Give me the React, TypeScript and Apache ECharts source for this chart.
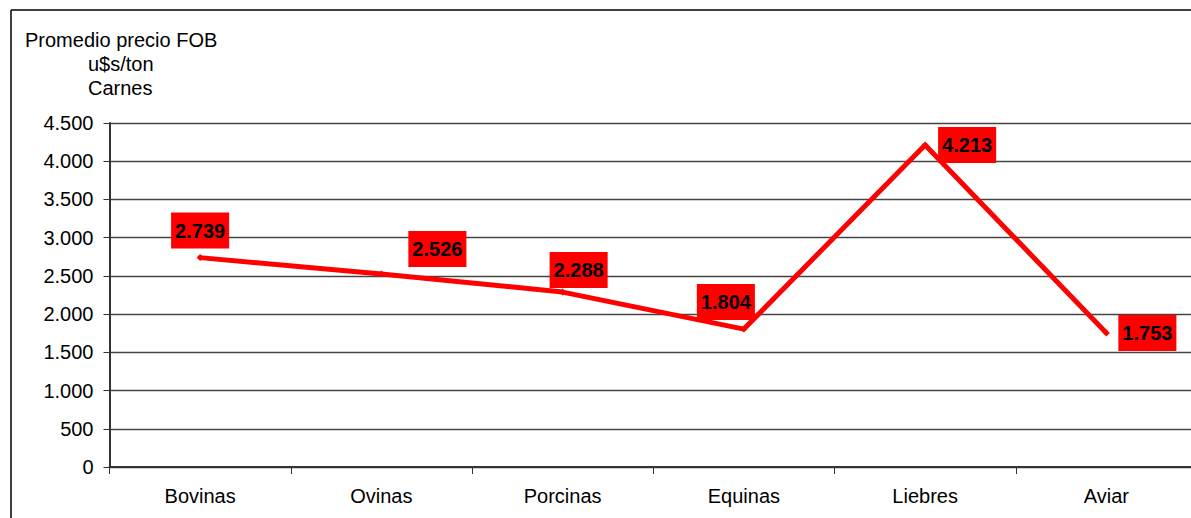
import React, { useEffect, useRef } from "react";
import * as echarts from "echarts";

const categories = ["Bovinas", "Ovinas", "Porcinas", "Equinas", "Liebres", "Aviar"];
const values = [2739, 2526, 2288, 1804, 4213, 1753];
const labelOffsets: [number, number][] = [
  [0, -27],
  [56, -25],
  [16, -22],
  [-18, -27],
  [42, 0],
  [41, 0],
];
const titleLines = ["Promedio precio FOB", "u$s/ton", "Carnes"];

const FONT = "Arial, 'Liberation Sans', Helvetica, sans-serif";

export default function App() {
  const ref = useRef<HTMLDivElement>(null);
  useEffect(() => {
    if (!ref.current) return;
    const chart = echarts.init(ref.current, null, { renderer: "svg" });
    chart.setOption({
      animation: false,
      backgroundColor: "#ffffff",
      grid: { left: 109.5, right: 3, top: 123, bottom: 51, containLabel: false },
      xAxis: {
        type: "category",
        data: categories,
        boundaryGap: true,
        axisLine: { show: true, lineStyle: { color: "#333333", width: 2 } },
        axisTick: { show: true, length: 7, alignWithLabel: false, lineStyle: { color: "#333333", width: 1 } },
        axisLabel: { color: "#000000", fontSize: 20, fontFamily: FONT, margin: 19 },
      },
      yAxis: {
        type: "value",
        min: 0,
        max: 4500,
        interval: 500,
        axisLine: { show: true, lineStyle: { color: "#333333", width: 2 } },
        axisTick: { show: true, length: 6, lineStyle: { color: "#333333", width: 1 } },
        axisLabel: {
          color: "#000000",
          fontSize: 20,
          fontFamily: FONT,
          margin: 16,
          formatter: (v: number) => v.toLocaleString("de-DE"),
        },
        splitLine: { show: true, lineStyle: { color: "#444444", width: 1.3 } },
      },
      graphic: [
        {
          type: "line",
          shape: { x1: 11, y1: 10, x2: 1200, y2: 10 },
          style: { stroke: "#000000", lineWidth: 1.5 },
        },
        {
          type: "line",
          shape: { x1: 11, y1: 10, x2: 11, y2: 520 },
          style: { stroke: "#000000", lineWidth: 1.5 },
        },
        {
          type: "text",
          x: 25,
          y: 40,
          style: { text: titleLines[0], fontSize: 20, fontFamily: FONT, fill: "#000", verticalAlign: "middle" },
        },
        {
          type: "text",
          x: 88,
          y: 64,
          style: { text: titleLines[1], fontSize: 20, fontFamily: FONT, fill: "#000", verticalAlign: "middle" },
        },
        {
          type: "text",
          x: 88,
          y: 88,
          style: { text: titleLines[2], fontSize: 20, fontFamily: FONT, fill: "#000", verticalAlign: "middle" },
        },
      ],
      series: [
        {
          type: "line",
          data: values.map((v, i) => ({
            value: v,
            label: { offset: labelOffsets[i] },
          })),
          symbol: "diamond",
          symbolSize: 7,
          itemStyle: { color: "#ff0000" },
          lineStyle: { color: "#ff0000", width: 5 },
          label: {
            show: true,
            position: "inside",
            formatter: (p: any) => (p.value as number).toLocaleString("de-DE"),
            backgroundColor: "#ff0000",
            color: "#000000",
            fontSize: 20,
            fontWeight: "bold",
            fontFamily: FONT,
            padding: [8, 4, 8, 4],
            lineHeight: 20,
          },
        },
      ],
    });
    return () => chart.dispose();
  }, []);
  return (
    <div style={{ position: "fixed", left: 0, top: 0, width: 1191, height: 518, overflow: "hidden", background: "#fff" }}>
      <div ref={ref} style={{ width: 1200, height: 518 }} />
    </div>
  );
}
